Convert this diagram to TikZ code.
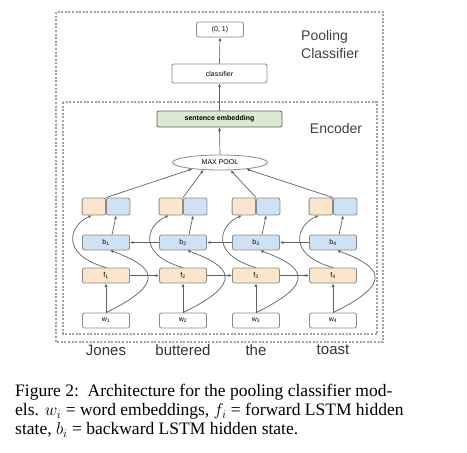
\documentclass[tikz,border=0pt]{standalone}
\usepackage{fontspec}
\setmainfont{Liberation Serif}
\setsansfont{Liberation Sans}
\usetikzlibrary{arrows.meta,shapes}

\definecolor{fwdfill}{HTML}{FCE5CD}
\definecolor{bwdfill}{HTML}{CFE2F3}
\definecolor{embfill}{HTML}{D9EAD3}
\definecolor{edgegray}{HTML}{5F5F5F}
\definecolor{boxgray}{HTML}{8A8A8A}

\begin{document}
\begin{tikzpicture}[x=1pt,y=-1pt,>={Latex[length=3.5pt,width=3pt]},
  box/.style={draw=boxgray, line width=0.8pt, rounded corners=2pt, inner sep=0pt,
    minimum width=47pt, minimum height=15pt, font=\sffamily\fontsize{7}{8}\selectfont},
  half/.style={box, minimum width=23.5pt, minimum height=17pt},
  frame/.style={draw=boxgray!80, line width=1.3pt, dash pattern=on 2pt off 1.6pt},
  link/.style={->, draw=edgegray, line width=0.7pt},
  lbl/.style={font=\sffamily\fontsize{14}{18}\selectfont, text=black!75, align=left}]
  \useasboundingbox (0,0) rectangle (467,453);

  \draw[frame] (56,12) rectangle (383,342);
  \draw[frame] (63,102) rectangle (377,334);
  \node[lbl] (pc) at (330,44) {Pooling\\Classifier};
  \node[lbl] (enc) at (336,128) {Encoder};

  \node[box] (out) at (220,29.5) {(0, 1)};
  \node[box, minimum width=95pt, minimum height=19pt] (cl) at (219.5,73.5) {classifier};
  \node[box, fill=embfill, draw=edgegray, minimum width=125pt, minimum height=16pt,
    font=\sffamily\bfseries\fontsize{7}{8}\selectfont] (se) at (219.5,119) {sentence embedding};
  \node[box, ellipse, minimum width=95pt, minimum height=15pt] (mp) at (220,162.5) {MAX POOL};

  \foreach \i/\x/\word in {1/106/Jones,2/183/buttered,3/256/the,4/333/toast}{
    \node[half, fill=fwdfill, anchor=east] (o\i) at (\x,206.5) {};
    \node[half, fill=bwdfill, anchor=west] (u\i) at (\x,206.5) {};
    \node[box, fill=bwdfill] (b\i) at (\x,242.5) {b\textsubscript{\i}};
    \node[box, fill=fwdfill] (f\i) at (\x,275.5) {f\textsubscript{\i}};
    \node[box] (w\i) at (\x,320.5) {w\textsubscript{\i}};
    \node[font=\sffamily\fontsize{15}{18}\selectfont, text=black!80] (t\i) at (\x,350) {\word};
    \draw[link] (w\i.north) -- (f\i.south);
    \draw[link] (w\i.north) .. controls +(62,-30) and +(44,16) .. ([xshift=4pt]b\i.south);
    \draw[link] (f\i.north) .. controls +(-46,-13) and +(-23,10) .. ([xshift=-2pt]o\i.south);
    \draw[link] ([xshift=6pt]b\i.north) -- ([xshift=-2pt]u\i.south);
  }
  \foreach \i/\j in {1/2,2/3,3/4}{
    \draw[link] (f\i.east) -- (f\j.west);
    \draw[link] (b\j.west) -- (b\i.east);
  }
  \draw[link] (o1.north east) -- (mp.-167);
  \draw[link] (o2.north east) -- (mp.-156);
  \draw[link] (o3.north east) -- (mp.-36);
  \draw[link] (o4.north east) -- (mp.-14);
  \draw[link] (mp.north) -- (se.south);
  \draw[link] (se.north) -- (cl.south);
  \draw[link] (cl.north) -- (out.south);

  \node[anchor=north west, align=left, inner sep=0pt, font=\fontsize{17.5}{19}\selectfont]
    (cap) at (15,384) {Figure 2:\ \ Architecture for the pooling classifier mod-\\
    els. $w_i$ = word embeddings, $f_i$ = forward LSTM hidden\\
    state, $b_i$ = backward LSTM hidden state.};
\end{tikzpicture}
\end{document}
